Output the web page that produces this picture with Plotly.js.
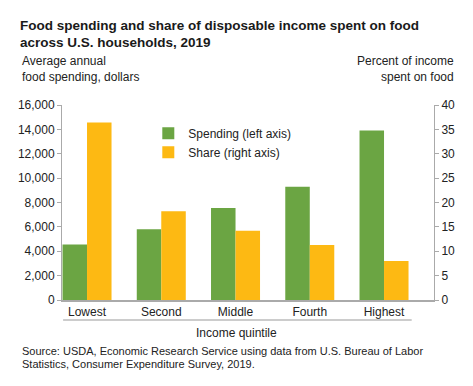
<!DOCTYPE html>
<html>
<head>
<meta charset="utf-8">
<script src="https://cdn.plot.ly/plotly-3.0.1.min.js"></script>
<style>html,body{margin:0;padding:0;background:#fff;}#chart{width:473px;height:386px;}</style>
</head>
<body>
<div id="chart"></div>
<script>
const categories = ["Lowest", "Second", "Middle", "Fourth", "Highest"];
const spending = [4550, 5800, 7550, 9300, 13900];
const share = [36.4, 18.2, 14.2, 11.3, 8.0];
const leftTicks = [0, 2000, 4000, 6000, 8000, 10000, 12000, 14000, 16000];
const rightTicks = [0, 5, 10, 15, 20, 25, 30, 35, 40];

const FONT = "Liberation Sans, Arial, Helvetica, sans-serif";
const TXT = "#222";

const traces = [
  {type: "bar", name: "Spending (left axis)", x: categories, y: spending,
   marker: {color: "#6ba543"}, offsetgroup: "a", yaxis: "y", hoverinfo: "none"},
  {type: "bar", name: "Share (right axis)", x: categories, y: share,
   marker: {color: "#fdb913"}, offsetgroup: "b", yaxis: "y2", hoverinfo: "none"}
];

const layout = {
  width: 473, height: 386,
  margin: {l: 62, r: 39, t: 105, b: 86},
  paper_bgcolor: "#fff", plot_bgcolor: "#fff",
  font: {family: FONT, size: 12, color: TXT},
  barmode: "group", bargap: 0.34, bargroupgap: 0,
  showlegend: true,
  legend: {x: 0.232, xanchor: "left", y: 0.93, yanchor: "top", bgcolor: "rgba(0,0,0,0)",
           font: {family: FONT, size: 12, color: TXT}, tracegroupgap: 0, itemwidth: 30},
  title: {text: "<b>Food spending and share of disposable income spent on food<br>across U.S. households, 2019</b>",
          x: 20/473, xanchor: "left", xref: "container", y: 1 - 29.5/386, yanchor: "top", yref: "container",
          font: {family: FONT, size: 13.5, color: "#1a1a1a"}},
  xaxis: {type: "category", range: [-0.337, 4.673], showline: true, linecolor: "#aaa", linewidth: 1.5,
          ticks: "", showgrid: false, zeroline: false, tickfont: {size: 12, color: TXT}, fixedrange: true},
  yaxis: {range: [0, 16000], tickvals: leftTicks, tickformat: ",", showgrid: false, zeroline: false,
          showline: true, linecolor: "#aaa", linewidth: 1, ticks: "outside", ticklen: 4, tickcolor: "#aaa",
          tickfont: {size: 12, color: TXT}, fixedrange: true},
  yaxis2: {range: [0, 40], tickvals: rightTicks, overlaying: "y", side: "right", showgrid: false, zeroline: false,
           showline: true, linecolor: "#aaa", linewidth: 1, ticks: "outside", ticklen: 4, tickcolor: "#aaa",
           tickfont: {size: 12, color: TXT}, fixedrange: true},
  shapes: [
    {type: "line", xref: "paper", yref: "paper", x0: 0.003, x1: 0.94, y0: -0.103, y1: -0.103,
     line: {color: "#bbb", width: 1.5}}
  ],
  annotations: [
    {text: "Average annual<br>food spending, dollars", xref: "paper", yref: "paper",
     x: -42/372, xanchor: "left", y: (300-52)/195, yanchor: "top", showarrow: false, align: "left",
     font: {size: 12, color: TXT}},
    {text: "Percent of income<br>spent on food", xref: "paper", yref: "paper",
     x: (456-62)/372, xanchor: "right", y: (300-52)/195, yanchor: "top", showarrow: false, align: "right",
     font: {size: 12, color: TXT}},
    {text: "Income quintile", xref: "paper", yref: "paper",
     x: (236-62)/372, xanchor: "center", y: (300-333)/195, yanchor: "middle", showarrow: false,
     font: {size: 12, color: TXT}},
    {text: "Source: USDA, Economic Research Service using data from U.S. Bureau of Labor",
     xref: "paper", yref: "paper", x: -42/372, xanchor: "left", y: (300-351)/195, yanchor: "middle",
     showarrow: false, align: "left", font: {size: 11, color: TXT}},
    {text: "Statistics, Consumer Expenditure Survey, 2019.",
     xref: "paper", yref: "paper", x: -42/372, xanchor: "left", y: (300-364)/195, yanchor: "middle",
     showarrow: false, align: "left", font: {size: 11, color: TXT}}
  ]
};

Plotly.newPlot("chart", traces, layout, {displayModeBar: false, staticPlot: true});
</script>
</body>
</html>
